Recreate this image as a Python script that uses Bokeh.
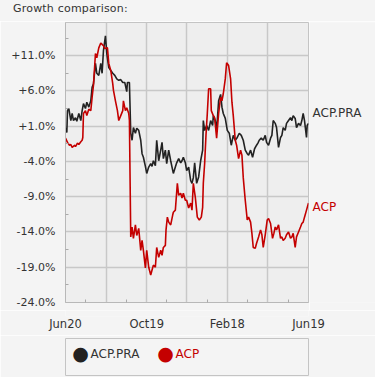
from bokeh.plotting import figure
from bokeh.layouts import column, row
from bokeh.models import Range1d, FixedTicker, Label, Div
from bokeh.embed import file_html
from bokeh.resources import INLINE

# ---- data ----
x_ticks = [0, 61, 122, 182, 243, 304, 365]
x_minor = [30, 91, 152, 213, 274, 335]
x_tick_labels = ["Jun20", "", "Oct19", "", "Feb18", "", "Jun19"]
y_ticks = [-24, -19, -14, -9, -4, 1, 6, 11]
y_minor = [-21.5, -16.5, -11.5, -6.5, -1.5, 3.5, 8.5, 13.5]
y_tick_labels = ["-24.0%", "-19.0%", "-14.0%", "-9.0%", "-4.0%", "+1.0%", "+6.0%", "+11.0%"]

title_text = "Growth comparison:"
series_names = ["ACP.PRA", "ACP"]

pra_days = [0, 2, 3, 5, 8, 10, 12, 15, 17, 20,
            23, 25, 27, 30, 32, 35, 38, 40, 42, 45,
            47, 50, 53, 55, 57, 60, 62, 65, 68, 71,
            74, 77, 80, 83, 86, 89, 92, 93, 96, 98,
            100, 102, 105, 107, 110, 113, 115, 117, 120, 122,
            125, 128, 130, 132, 135, 137, 140, 143, 145, 147,
            150, 152, 155, 158, 160, 162, 165, 167, 170, 173,
            175, 177, 180, 182, 185, 188, 190, 192, 194, 197,
            200, 203, 206, 207, 209, 212, 215, 218, 221, 222,
            225, 227, 230, 233, 235, 237, 240, 243, 246, 249,
            252, 255, 258, 261, 264, 267, 270, 273, 275, 278,
            281, 284, 287, 289, 291, 294, 297, 300, 302, 305,
            308, 310, 312, 315, 317, 320, 323, 325, 327, 330,
            332, 335, 338, 340, 342, 345, 347, 350, 353, 355,
            357, 359, 362, 363, 365]
pra_vals = [0.8, 0.1, 3.2, 3.5, 1.8, 2.8, 1.8, 2.2, 1.7, 2.8,
            1.8, 3.2, 4.2, 3.5, 4.4, 3.7, 4.6, 6.5, 7.0, 9.9,
            8.5, 8.2, 9.9, 8.5, 11.7, 13.8, 11.3, 9.3, 8.9, 8.5,
            8.2, 7.7, 7.5, 7.6, 7.2, 7.2, 5.9, 7.2, 7.2, 0.0,
            -1.0, 0.8, 0.0, 0.7, 0.4, -1.0, -2.9, -3.4, -4.7, -5.7,
            -4.8, -4.3, -4.7, -3.9, -4.6, -1.0, -3.9, -2.4, -1.3, -3.6,
            -2.4, -4.3, -2.4, -3.9, -4.8, -5.7, -4.8, -4.2, -3.6, -4.2,
            -3.9, -3.4, -4.2, -5.3, -4.8, -6.7, -7.1, -6.3, -4.2, -7.1,
            -6.2, -3.9, -2.4, 1.8, 0.4, 1.1, 0.4, 1.8, 1.1, 2.5,
            1.8, 0.4, 4.6, 5.5, 3.7, 2.8, 2.1, 0.4, 0.0, -1.7,
            -0.3, -1.0, -0.6, 0.0, -0.3, -1.0, -2.4, -2.9, -3.1, -2.4,
            -3.4, -2.2, -1.7, -1.4, -1.0, -0.7, -1.0, -0.3, -1.3, -1.7,
            -0.7, -0.3, 1.8, 1.4, 0.8, -2.0, -0.6, -0.3, 0.8, 0.4,
            1.4, 1.8, 2.2, 1.8, 2.5, 2.1, 0.8, 1.4, 1.1, 1.8,
            2.8, 1.8, -0.6, 1.1, 1.4]

acp_days = [0, 3, 6, 8, 10, 14, 15, 18, 20, 23,
            25, 26, 27, 30, 32, 35, 38, 40, 42, 45,
            47, 50, 53, 55, 57, 59, 62, 63, 65, 68,
            71, 72, 75, 78, 80, 83, 86, 87, 90, 92,
            95, 96, 98, 100, 102, 105, 107, 110, 113, 115,
            117, 120, 122, 125, 128, 130, 132, 135, 137, 140,
            143, 145, 147, 150, 151, 153, 155, 158, 161, 162,
            165, 168, 170, 173, 175, 177, 180, 182, 185, 188,
            190, 192, 195, 198, 201, 204, 206, 207, 209, 211,
            213, 215, 218, 219, 222, 224, 227, 230, 233, 235,
            237, 240, 242, 245, 248, 250, 252, 255, 257, 260,
            263, 265, 267, 270, 273, 275, 278, 280, 282, 285,
            287, 290, 293, 295, 297, 300, 303, 305, 308, 311,
            313, 315, 317, 320, 323, 325, 327, 330, 332, 335,
            338, 340, 342, 345, 347, 350, 353, 355, 357, 359,
            362, 365]
acp_vals = [-0.7, -1.3, -1.7, -1.6, -2.0, -1.7, -1.9, -1.4, -1.6, -1.2,
            -1.0, -0.6, 2.8, 3.2, 2.5, 3.4, 3.2, 5.1, 6.8, 11.3,
            10.7, 12.1, 12.8, 12.6, 12.4, 12.0, 12.1, 12.1, 9.9, 8.9,
            7.0, 6.1, 4.6, 3.2, 1.8, 2.5, 3.2, 4.6, 3.2, 3.6,
            2.8, 1.8, -14.7, -13.3, -14.9, -13.0, -14.5, -13.5, -16.6, -15.2,
            -16.6, -19.1, -16.6, -19.0, -20.1, -19.4, -18.7, -19.0, -16.2, -17.6,
            -16.6, -17.3, -16.2, -15.9, -13.7, -11.9, -12.6, -13.0, -11.6, -11.2,
            -10.9, -7.1, -8.8, -8.5, -9.2, -8.5, -9.5, -9.5, -10.6, -9.9,
            -10.9, -7.1, -9.1, -11.9, -12.3, -11.9, -10.5, -7.1, -4.3, -0.3,
            2.8, 6.3, 6.3, 3.2, 2.5, 2.2, -0.7, 2.8, 5.1, 4.6,
            5.6, 7.7, 10.0, 9.6, 7.7, 4.4, 2.5, -1.0, -1.7, -3.6,
            -2.4, -3.1, -6.3, -9.5, -12.3, -11.9, -12.6, -14.2, -16.2, -16.3,
            -15.6, -14.7, -13.7, -14.4, -16.2, -14.4, -12.3, -12.1, -12.8, -14.9,
            -14.2, -13.3, -13.7, -13.0, -14.9, -14.7, -15.2, -14.9, -14.4, -14.0,
            -14.9, -14.7, -14.2, -16.2, -14.7, -14.0, -13.3, -12.8, -12.6, -11.9,
            -10.9, -9.9]

# ---- styling ----
FONT = "DejaVu Sans"
BLACK = "#222222"
RED = "#c40000"
TXT = "#333333"
BG = "#f4f4f4"
PLOT_BG = "#eeeeee"
EDGE = "#c4c4c4"

x_range = Range1d(0, 365)
y_range = Range1d(-24, 15.7)


def strip(width, height, **kw):
    f = figure(width=width, height=height, output_backend="svg", toolbar_location=None,
               x_axis_location=None, y_axis_location=None, **kw)
    f.border_fill_color = BG
    f.background_fill_color = BG
    f.outline_line_color = None
    f.grid.visible = False
    return f


# title strip
tt = Div(text=('<div style="font-family: \'DejaVu Sans\'; font-size: 11px; color: %s; '
               'padding: 0 0 0 13px; line-height: 12px; letter-spacing: 0.2px; '
               'white-space: nowrap;">%s</div>') % (TXT, title_text),
         width=375, height=21, styles={"background-color": BG, "margin": "0", "padding": "0"})

# main chart
p = figure(width=309, height=289, output_backend="svg", toolbar_location=None,
           x_range=x_range, y_range=y_range,
           min_border_left=65, min_border_right=1, min_border_top=1, min_border_bottom=8)
p.border_fill_color = BG
p.background_fill_color = PLOT_BG
p.outline_line_color = EDGE
p.outline_line_width = 1

p.line(pra_days, pra_vals, line_color=BLACK, line_width=1.6)
p.line(acp_days, acp_vals, line_color=RED, line_width=1.6)

for ax in (p.xaxis[0], p.yaxis[0]):
    ax.axis_line_color = "#b8b8b8"
    ax.major_tick_in = 0
    ax.major_tick_out = 0
    ax.minor_tick_in = 3
    ax.minor_tick_out = 0
    ax.minor_tick_line_color = "#aaaaaa"
    ax.major_label_text_font = FONT
    ax.major_label_text_color = TXT

p.xaxis.ticker = FixedTicker(ticks=x_ticks, minor_ticks=x_minor)
p.xaxis.major_label_overrides = {t: "" for t in x_ticks}
p.xaxis.major_label_text_font_size = "1px"
p.xaxis.major_label_standoff = 0

p.yaxis.ticker = FixedTicker(ticks=y_ticks, minor_ticks=y_minor)
p.yaxis.major_label_overrides = dict(zip(y_ticks, y_tick_labels))
p.yaxis.major_label_text_font_size = "11px"
p.yaxis.major_label_standoff = 10

p.grid.grid_line_color = "#c8c8c8"
p.grid.grid_line_width = 1.5

# side strip with end-of-line labels (shares the y scale)
s = strip(66, 289, x_range=Range1d(0, 1), y_range=y_range,
          min_border_left=0, min_border_right=0, min_border_top=1, min_border_bottom=8)
s.text(x=[0], y=[pra_vals[-1]], text=[series_names[0]], x_offset=3, y_offset=-10,
       text_font={"value": FONT}, text_font_size="12px", text_color=TXT, text_baseline="middle")
s.text(x=[0], y=[acp_vals[-1]], text=[series_names[1]], x_offset=3, y_offset=4,
       text_font={"value": FONT}, text_font_size="12px", text_color=RED, text_baseline="middle")

# x tick label strip (shares the x scale, full width so end labels are not shifted)
xl = figure(width=375, height=25, output_backend="svg", toolbar_location=None,
            x_range=x_range, y_range=Range1d(0, 1), y_axis_location=None,
            min_border_left=65, min_border_right=67, min_border_top=0, min_border_bottom=19)
xl.border_fill_color = BG
xl.background_fill_color = BG
xl.outline_line_color = None
xl.grid.visible = False
xl.xaxis.ticker = FixedTicker(ticks=x_ticks)
xl.xaxis.major_label_overrides = dict(zip(x_ticks, x_tick_labels))
xl.xaxis.axis_line_color = None
xl.xaxis.major_tick_line_color = None
xl.xaxis.minor_tick_line_color = None
xl.xaxis.major_tick_out = 0
xl.xaxis.major_tick_in = 0
xl.xaxis.major_label_text_font = FONT
xl.xaxis.major_label_text_font_size = "11.5px"
xl.xaxis.major_label_text_color = TXT
xl.xaxis.major_label_standoff = 0

# legend strip
lg = figure(width=375, height=42, output_backend="svg", toolbar_location=None,
            x_range=Range1d(0, 1), y_range=Range1d(0, 1),
            x_axis_location=None, y_axis_location=None,
            min_border_left=62, min_border_right=3, min_border_top=3, min_border_bottom=2)
lg.border_fill_color = BG
lg.background_fill_color = BG
lg.outline_line_color = EDGE
lg.grid.visible = False
for dx, name, dot_col, txt_col in ((15, series_names[0], BLACK, TXT), (100, series_names[1], RED, RED)):
    lg.add_layout(Label(x=dx, y=23, x_units="screen", y_units="screen", text="\u25cf",
                        text_font=FONT, text_font_size="19px", text_color=dot_col,
                        text_align="center", text_baseline="middle"))
    lg.add_layout(Label(x=dx + 10, y=22, x_units="screen", y_units="screen", text=name,
                        text_font=FONT, text_font_size="12px", text_color=txt_col,
                        text_baseline="middle"))

layout = column(tt, row(p, s), xl, lg)
open("out.html", "w").write(file_html(layout, INLINE))
